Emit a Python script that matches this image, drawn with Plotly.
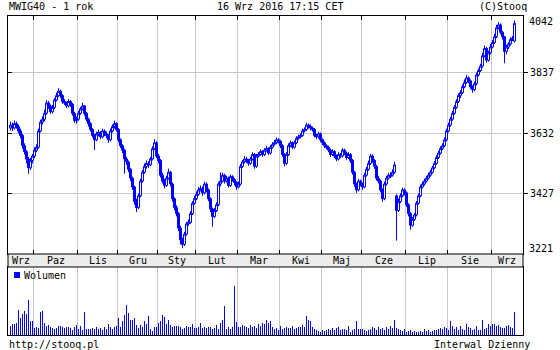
import plotly.graph_objects as go

# ---------------- data ----------------
month_labels = ["Wrz", "Paz", "Lis", "Gru", "Sty", "Lut", "Mar", "Kwi", "Maj", "Cze", "Lip", "Sie", "Wrz"]
month_days = [12, 22, 20, 20, 19, 21, 21, 21, 20, 22, 21, 22, 12]

price_ticks = [3426.25, 3631.5, 3836.75]
price_tick_text = ["3427", "3632", "3837"]
price_edge_labels = ["4042", "3221"]

opens = [
    3650,3660,3650,3665,3655,3640,3625,3590,3570,3545,
    3515,3540,3555,3575,3585,3640,3670,3680,3700,3735,
    3725,3705,3720,3745,3760,3775,3760,3740,3735,3725,
    3740,3730,3700,3675,3680,3700,3715,3725,3700,3680,
    3665,3645,3625,3610,3630,3635,3620,3640,3630,3625,
    3610,3640,3655,3665,3645,3610,3590,3575,3545,3535,
    3510,3480,3450,3400,3380,3420,3470,3500,3520,3530,
    3525,3545,3580,3600,3555,3540,3490,3470,3455,3480,
    3500,3460,3410,3380,3360,3310,3270,3255,3290,3325,
    3330,3360,3395,3410,3425,3440,3445,3430,3460,3440,
    3410,3375,3350,3370,3390,3460,3470,3490,3470,3480,
    3455,3485,3475,3465,3450,3460,3520,3535,3545,3540,
    3530,3545,3560,3520,3555,3560,3570,3560,3575,3580,
    3565,3585,3595,3600,3610,3605,3590,3560,3530,3560,
    3590,3600,3585,3600,3615,3620,3625,3640,3645,3660,
    3655,3650,3645,3625,3620,3630,3610,3600,3590,3585,
    3575,3560,3570,3555,3545,3560,3555,3575,3565,3550,
    3560,3540,3500,3460,3440,3470,3460,3450,3490,3510,
    3530,3555,3540,3520,3480,3470,3440,3410,3460,3480,
    3485,3490,3500,3420,3370,3400,3420,3440,3430,3390,
    3360,3320,3340,3355,3395,3420,3450,3460,3470,3480,
    3490,3500,3515,3530,3550,3565,3580,3590,3610,3640,
    3660,3680,3700,3720,3740,3760,3770,3790,3805,3820,
    3810,3790,3780,3800,3830,3845,3860,3895,3920,3880,
    3905,3925,3940,3960,3990,4000,3975,3960,3910,3925,
    3935,3950,3945,
]

highs = [
    3672,3668,3675,3672,3662,3648,3630,3598,3575,3552,
    3548,3562,3585,3595,3648,3678,3690,3712,3745,3742,
    3730,3728,3752,3770,3785,3780,3765,3748,3740,3748,
    3745,3735,3705,3688,3708,3722,3735,3728,3705,3685,
    3670,3650,3630,3638,3645,3640,3648,3645,3638,3630,
    3648,3662,3675,3670,3650,3615,3595,3580,3552,3540,
    3515,3485,3455,3410,3428,3478,3508,3530,3540,3538,
    3552,3588,3612,3605,3562,3545,3498,3478,3488,3512,
    3505,3465,3415,3388,3365,3318,3278,3298,3332,3340,
    3368,3402,3420,3435,3450,3455,3452,3468,3465,3445,
    3415,3380,3378,3398,3468,3500,3498,3495,3488,3485,
    3492,3490,3480,3470,3468,3528,3542,3555,3552,3545,
    3552,3568,3565,3562,3568,3578,3575,3582,3590,3585,
    3592,3602,3610,3618,3615,3610,3595,3565,3568,3598,
    3608,3605,3608,3622,3628,3632,3648,3652,3668,3665,
    3662,3655,3650,3630,3638,3635,3615,3605,3595,3590,
    3580,3578,3575,3560,3568,3565,3582,3580,3570,3568,
    3565,3545,3505,3465,3478,3475,3465,3498,3518,3540,
    3562,3560,3545,3525,3488,3475,3445,3468,3488,3498,
    3500,3510,3535,3425,3410,3428,3448,3445,3435,3395,
    3365,3348,3362,3402,3428,3458,3468,3478,3488,3498,
    3508,3522,3538,3558,3572,3588,3598,3618,3648,3668,
    3688,3708,3728,3748,3768,3778,3798,3815,3830,3825,
    3815,3795,3808,3838,3852,3868,3905,3930,3925,3912,
    3935,3948,3970,4000,4010,4005,3980,3962,3932,3942,
    3958,3962,4015,
]

lows = [
    3642,3640,3645,3648,3632,3615,3580,3560,3530,3495,
    3508,3530,3548,3568,3580,3635,3662,3672,3695,3715,
    3698,3700,3715,3740,3755,3752,3732,3728,3718,3720,
    3722,3692,3668,3665,3675,3695,3710,3692,3672,3655,
    3638,3618,3575,3605,3622,3612,3615,3622,3615,3600,
    3605,3635,3648,3638,3602,3582,3565,3495,3525,3500,
    3470,3440,3390,3365,3375,3415,3465,3495,3512,3515,
    3520,3540,3575,3548,3530,3482,3462,3445,3450,3475,
    3452,3400,3370,3350,3300,3255,3242,3250,3285,3318,
    3325,3355,3390,3405,3420,3435,3420,3425,3432,3402,
    3365,3315,3345,3365,3385,3452,3465,3462,3465,3448,
    3450,3468,3455,3440,3445,3455,3515,3530,3532,3522,
    3525,3540,3512,3515,3550,3555,3552,3555,3570,3558,
    3560,3580,3590,3595,3598,3582,3552,3520,3525,3555,
    3585,3578,3580,3595,3610,3615,3620,3635,3640,3648,
    3642,3638,3618,3612,3615,3602,3592,3582,3578,3568,
    3552,3555,3548,3538,3540,3548,3550,3558,3542,3545,
    3532,3492,3450,3430,3435,3452,3440,3445,3485,3505,
    3525,3532,3512,3472,3462,3432,3400,3405,3455,3475,
    3480,3485,3495,3268,3365,3395,3415,3422,3382,3350,
    3305,3315,3335,3350,3390,3415,3445,3455,3465,3475,
    3485,3495,3510,3525,3545,3560,3575,3585,3605,3635,
    3655,3675,3695,3715,3735,3752,3765,3785,3800,3802,
    3782,3770,3775,3795,3825,3840,3855,3890,3872,3875,
    3900,3920,3935,3955,3985,3968,3950,3870,3900,3918,
    3930,3945,3940,
]

closes = [
    3660,3650,3665,3655,3640,3625,3590,3570,3545,3515,
    3540,3555,3575,3585,3640,3670,3680,3700,3735,3725,
    3705,3720,3745,3760,3775,3760,3740,3735,3725,3740,
    3730,3700,3675,3680,3700,3715,3725,3700,3680,3665,
    3645,3625,3610,3630,3635,3620,3640,3630,3625,3610,
    3640,3655,3665,3645,3610,3590,3575,3545,3535,3510,
    3480,3450,3400,3380,3420,3470,3500,3520,3530,3525,
    3545,3580,3600,3555,3540,3490,3470,3455,3480,3500,
    3460,3410,3380,3360,3310,3270,3255,3290,3325,3330,
    3360,3395,3410,3425,3440,3445,3430,3460,3440,3410,
    3375,3350,3370,3390,3460,3470,3490,3470,3480,3455,
    3485,3475,3465,3450,3460,3520,3535,3545,3540,3530,
    3545,3560,3520,3555,3560,3570,3560,3575,3580,3565,
    3585,3595,3600,3610,3605,3590,3560,3530,3560,3590,
    3600,3585,3600,3615,3620,3625,3640,3645,3660,3655,
    3650,3645,3625,3620,3630,3610,3600,3590,3585,3575,
    3560,3570,3555,3545,3560,3555,3575,3565,3550,3560,
    3540,3500,3460,3440,3470,3460,3450,3490,3510,3530,
    3555,3540,3520,3480,3470,3440,3410,3460,3480,3490,
    3490,3500,3525,3370,3400,3420,3440,3430,3390,3360,
    3320,3340,3355,3395,3420,3450,3460,3470,3480,3490,
    3500,3515,3530,3550,3565,3580,3590,3610,3640,3660,
    3680,3700,3720,3740,3760,3770,3790,3805,3820,3810,
    3790,3780,3800,3830,3845,3860,3895,3920,3880,3905,
    3925,3940,3960,3990,4000,3975,3960,3910,3925,3935,
    3950,3955,4005,
]

volume = [
    9,11,11,12,25,17,21,24,21,35,
    14,14,7,8,7,23,24,12,9,10,
    8,7,6,7,9,9,8,7,8,8,
    7,5,8,10,6,9,5,23,6,6,
    6,7,6,8,6,7,5,8,6,11,
    8,6,8,9,17,8,14,20,30,22,
    15,15,17,10,7,10,8,14,11,19,
    6,4,8,8,12,14,20,18,11,15,
    10,8,9,9,9,8,6,7,9,8,
    8,11,7,7,8,12,7,8,7,8,
    8,6,7,10,6,12,15,29,6,8,
    6,8,49,13,8,8,10,9,8,7,
    10,8,9,7,11,9,12,11,15,12,
    14,8,6,7,5,9,6,7,8,7,
    7,9,6,7,8,8,10,8,19,15,
    14,8,6,5,4,3,5,4,5,6,
    5,7,5,7,8,5,6,6,5,9,
    3,5,6,14,6,6,6,5,4,5,
    6,8,7,5,8,6,7,5,8,6,
    9,7,15,7,6,5,4,6,3,4,
    5,3,4,3,3,4,3,6,4,5,
    3,4,5,5,6,7,6,8,7,5,
    14,9,6,8,5,9,6,5,11,8,
    7,5,6,9,5,5,15,6,7,11,
    9,11,11,9,10,8,7,7,9,10,
    8,7,23,
]

days = list(range(len(closes)))

# ---------------- layout constants ----------------
W, H = 560, 350
PX_L, PX_R = 8, 523
PRICE_TOP, PRICE_BOT = 16, 254
STRIP_BOT = 267
VOL_BOT = 335
X_RANGE = [-1.25, 256.25]
Y_RANGE = [3222.6, 4030.1]
BLUE = "#0000ff"
GRID = "#c8c8c8"
FONT = "DejaVu Sans Mono"
FS = 10

def px_x(v):
    return v / W

def px_y(v):
    return (H - v) / H

# month boundaries & label positions
bounds = []
acc = 0
for n in month_days[:-1]:
    acc += n
    bounds.append(acc - 0.5)
edges = [X_RANGE[0]] + bounds + [X_RANGE[1]]
centers = [(edges[k] + edges[k + 1]) / 2 for k in range(len(month_labels))]

fig = go.Figure()

fig.add_trace(go.Candlestick(
    x=days, open=opens, high=highs, low=lows, close=closes,
    increasing=dict(line=dict(color=BLUE, width=1), fillcolor="#ffffff"),
    decreasing=dict(line=dict(color=BLUE, width=1), fillcolor=BLUE),
    whiskerwidth=0, showlegend=False, hoverinfo="skip",
    xaxis="x", yaxis="y",
))

fig.add_trace(go.Bar(
    x=days, y=volume, width=0.5, marker=dict(color=BLUE, line=dict(width=0)),
    showlegend=False, hoverinfo="skip", xaxis="x2", yaxis="y2",
))

# empty trace so that the inside left ticks of the price panel are drawn
fig.add_trace(go.Scatter(x=[], y=[], xaxis="x", yaxis="y3", showlegend=False, hoverinfo="skip"))

axis_common = dict(
    domain=[px_x(PX_L), px_x(PX_R)], range=X_RANGE, tickvals=bounds,
    showticklabels=False, showgrid=True, gridcolor=GRID, gridwidth=1,
    showline=True, linecolor="black", linewidth=1, zeroline=False, fixedrange=True,
)

fig.update_layout(
    width=W, height=H, margin=dict(l=0, r=0, t=0, b=0),
    paper_bgcolor="white", plot_bgcolor="white",
    boxgap=0, boxgroupgap=0,
    xaxis=dict(**axis_common, anchor="y", ticks="inside", ticklen=4, tickcolor="black",
               mirror="ticks", rangeslider=dict(visible=False)),
    yaxis=dict(domain=[px_y(PRICE_BOT), px_y(PRICE_TOP)], range=Y_RANGE, side="right",
               tickvals=price_ticks, ticktext=price_tick_text, ticks="outside", ticklen=4,
               tickcolor="black", showgrid=True, gridcolor=GRID, gridwidth=1,
               showline=True, linecolor="black", linewidth=1, mirror=True, zeroline=False,
               tickfont=dict(family=FONT, size=FS, color="black"), anchor="x", fixedrange=True),
    yaxis3=dict(overlaying="y", side="left", anchor="x", range=Y_RANGE, tickvals=price_ticks,
                ticks="inside", ticklen=4, tickcolor="black", showticklabels=False,
                showgrid=False, showline=False, zeroline=False, fixedrange=True),
    xaxis2=dict(**axis_common, anchor="y2", ticks="", mirror=True),
    yaxis2=dict(domain=[px_y(VOL_BOT), px_y(STRIP_BOT)], range=[0, 68], showgrid=False,
                showticklabels=False, showline=True, linecolor="black", linewidth=1,
                mirror=True, zeroline=False, anchor="x2", fixedrange=True),
    showlegend=False,
)

shapes = [
    dict(type="rect", xref="paper", yref="paper", x0=px_x(PX_L), x1=px_x(PX_R),
         y0=px_y(STRIP_BOT), y1=px_y(PRICE_BOT), fillcolor="#ececec",
         line=dict(color="black", width=1), layer="above"),
    dict(type="rect", xref="paper", yref="paper", x0=px_x(14), x1=px_x(20),
         y0=px_y(278), y1=px_y(272), fillcolor=BLUE, line=dict(width=0), layer="above"),
]
fig.update_layout(shapes=shapes)

tf = dict(family=FONT, size=FS, color="black")
ann = []
for lab, cx in zip(month_labels, centers):
    ann.append(dict(x=cx, xref="x", y=px_y(260.5), yref="paper", text=lab, showarrow=False,
                    xanchor="center", yanchor="middle", font=tf))
ann += [
    dict(x=px_x(7), y=px_y(6.5), text="MWIG40 - 1 rok", xanchor="left"),
    dict(x=px_x(280), y=px_y(6.5), text="16 Wrz 2016 17:15 CET", xanchor="center"),
    dict(x=px_x(529), y=px_y(6.5), text="(C)Stooq", xanchor="right"),
    dict(x=px_x(527), y=px_y(22), text=price_edge_labels[0], xanchor="left"),
    dict(x=px_x(527), y=px_y(248), text=price_edge_labels[1], xanchor="left"),
    dict(x=px_x(22), y=px_y(275), text="Wolumen", xanchor="left"),
    dict(x=px_x(7), y=px_y(344), text="http://stooq.pl", xanchor="left"),
    dict(x=px_x(532), y=px_y(344), text="Interwal Dzienny", xanchor="right"),
]
for a in ann[len(month_labels):]:
    a.update(xref="paper", yref="paper", showarrow=False, yanchor="middle", font=tf)
fig.update_layout(annotations=ann)

fig.write_html("out.html")
